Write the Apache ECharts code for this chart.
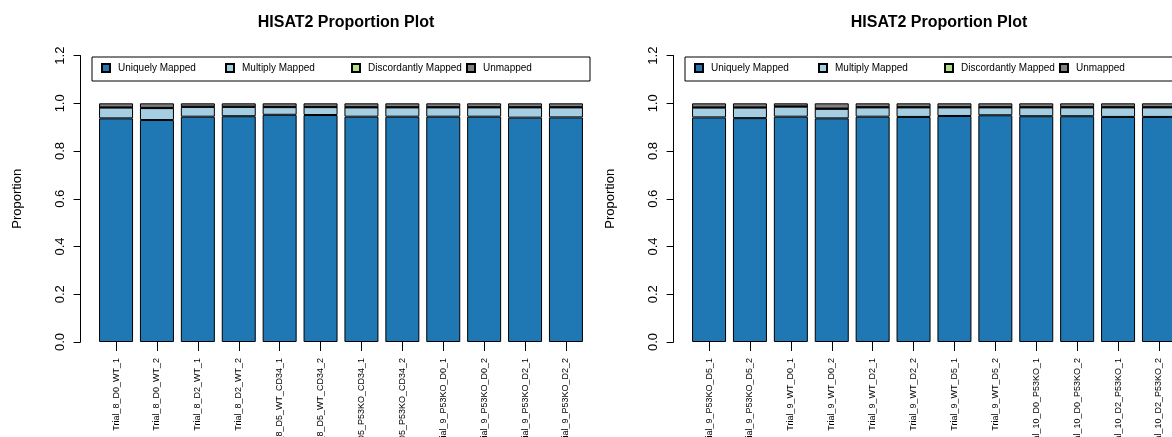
<!DOCTYPE html>
<html>
<head>
<meta charset="utf-8">
<script src="https://cdn.jsdelivr.net/npm/echarts@6/dist/echarts.min.js"></script>
<style>
  html, body { margin: 0; padding: 0; background: #fff; }
  #chart { width: 1172px; height: 437px; }
</style>
</head>
<body>
<div id="chart"></div>
<script>
// sample names, left plot and right plot
const samplesLeft = ['Trial_8_D0_WT_1', 'Trial_8_D0_WT_2', 'Trial_8_D2_WT_1', 'Trial_8_D2_WT_2',
  'Trial_8_D5_WT_CD34_1', 'Trial_8_D5_WT_CD34_2', 'Trial_8_D5_P53KO_CD34_1', 'Trial_8_D5_P53KO_CD34_2',
  'Trial_9_P53KO_D0_1', 'Trial_9_P53KO_D0_2', 'Trial_9_P53KO_D2_1', 'Trial_9_P53KO_D2_2'];
const samplesRight = ['Trial_9_P53KO_D5_1', 'Trial_9_P53KO_D5_2', 'Trial_9_WT_D0_1', 'Trial_9_WT_D0_2',
  'Trial_9_WT_D2_1', 'Trial_9_WT_D2_2', 'Trial_9_WT_D5_1', 'Trial_9_WT_D5_2',
  'Trial_10_D0_P53KO_1', 'Trial_10_D0_P53KO_2', 'Trial_10_D2_P53KO_1', 'Trial_10_D2_P53KO_2'];

const categories = ['Uniquely Mapped', 'Multiply Mapped', 'Discordantly Mapped', 'Unmapped'];
const colors = ['#1F78B4', '#A6CEE3', '#B2DF8A', '#808080'];

// proportions
const uniqueLeft = [0.937, 0.930, 0.944, 0.946, 0.952, 0.951, 0.944, 0.944, 0.944, 0.944, 0.940, 0.941];
const multiLeft = [0.045, 0.050, 0.041, 0.039, 0.032, 0.033, 0.039, 0.039, 0.039, 0.039, 0.043, 0.042];
const discLeft = [0.001, 0.001, 0.001, 0.001, 0.001, 0.001, 0.001, 0.001, 0.001, 0.001, 0.001, 0.001];
const unmappedLeft = [0.017, 0.019, 0.014, 0.014, 0.015, 0.015, 0.016, 0.016, 0.016, 0.016, 0.016, 0.016];

const uniqueRight = [0.941, 0.938, 0.944, 0.937, 0.944, 0.943, 0.947, 0.950, 0.946, 0.946, 0.943, 0.943];
const multiRight = [0.041, 0.044, 0.042, 0.040, 0.039, 0.040, 0.036, 0.033, 0.037, 0.037, 0.040, 0.040];
const discRight = [0.001, 0.001, 0.001, 0.001, 0.001, 0.001, 0.001, 0.001, 0.001, 0.001, 0.001, 0.001];
const unmappedRight = [0.017, 0.017, 0.013, 0.022, 0.016, 0.016, 0.016, 0.016, 0.016, 0.016, 0.016, 0.016];

const yTicks = [0, 0.2, 0.4, 0.6, 0.8, 1.0, 1.2];

const FONT = 'Liberation Sans';
const panelShift = 593;
const legendIconX = [101, 225, 351, 466];

function xAxisFor(idx, names) {
  return {
    type: 'category', gridIndex: idx, data: names,
    axisLine: { show: false },
    axisTick: { show: true, alignWithLabel: true, length: 9, lineStyle: { color: '#000' } },
    axisLabel: { interval: 0, rotate: 90, margin: 16, fontSize: 9, color: '#000', fontFamily: FONT }
  };
}

function yAxisFor(idx) {
  return {
    type: 'value', gridIndex: idx, min: yTicks[0], max: yTicks[yTicks.length - 1], interval: 0.2,
    offset: 15,
    name: 'Proportion', nameLocation: 'middle', nameGap: 57, nameRotate: 90,
    nameTextStyle: { fontSize: 13, color: '#000', fontFamily: FONT },
    axisLine: { show: true, lineStyle: { color: '#000' } },
    axisTick: { show: true, length: 7, lineStyle: { color: '#000' } },
    splitLine: { show: false },
    axisLabel: { rotate: 90, margin: 14, fontSize: 13, color: '#000', fontFamily: FONT,
      formatter: v => v.toFixed(1) }
  };
}

function seriesFor(idx, arrays) {
  return arrays.map((d, i) => ({
    name: categories[i], type: 'bar', stack: 'p' + idx,
    xAxisIndex: idx, yAxisIndex: idx, data: d, barWidth: 34,
    itemStyle: { color: colors[i], borderColor: '#000', borderWidth: 1 },
    emphasis: { disabled: true }
  }));
}

const legends = [];
[0, 1].forEach(p => {
  categories.forEach((c, i) => {
    legends.push({
      data: [c], left: legendIconX[i] + p * panelShift, top: 63, padding: 0,
      itemWidth: 8, itemHeight: 8, icon: 'rect', selectedMode: false,
      textStyle: { fontSize: 10, color: '#000', fontFamily: FONT, padding: [0, 0, 0, 3] }
    });
  });
});

const chart = echarts.init(document.getElementById('chart'));
chart.setOption({
  animation: false,
  title: [0, 1].map(p => ({
    text: 'HISAT2 Proportion Plot', left: 341 + p * panelShift, top: 10, textAlign: 'center',
    textStyle: { fontSize: 16, fontWeight: 'bold', color: '#000', fontFamily: FONT }
  })),
  legend: legends,
  grid: [
    { left: 95.6, width: 490.8, top: 55.6, bottom: 95, outerBoundsMode: 'none', containLabel: false },
    { left: 95.6 + panelShift, width: 490.8, top: 55.6, bottom: 95, outerBoundsMode: 'none', containLabel: false }
  ],
  xAxis: [xAxisFor(0, samplesLeft), xAxisFor(1, samplesRight)],
  yAxis: [yAxisFor(0), yAxisFor(1)],
  graphic: [0, 1].map(p => ({
    type: 'rect', silent: true,
    shape: { x: 92 + p * panelShift, y: 57, width: 498, height: 24 },
    style: { fill: null, stroke: '#000', lineWidth: 1 }
  })),
  series: seriesFor(0, [uniqueLeft, multiLeft, discLeft, unmappedLeft])
    .concat(seriesFor(1, [uniqueRight, multiRight, discRight, unmappedRight]))
});
</script>
</body>
</html>
